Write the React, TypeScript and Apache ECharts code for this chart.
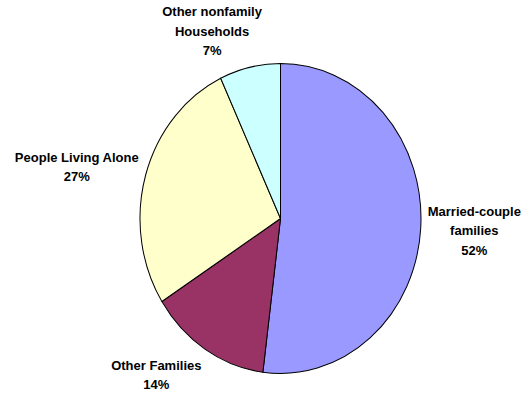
import React, { useEffect, useRef } from "react";
import * as echarts from "echarts";

// ---- data ----
const categories = [
  "Married-couple\nfamilies",
  "Other Families",
  "People Living Alone",
  "Other nonfamily\nHouseholds",
];
const shares = [52, 14, 27, 7];
const colors = ["#9999FF", "#993366", "#FFFFCC", "#CCFFFF"];

// ---- layout ----
const W = 526;
const H = 396;
const CX = 280.5;
const CY = 218.5;
const RX = 140.5;
const RY = 155;
const FONT = 'bold 13px "Liberation Sans", Arial, sans-serif';
const LINE_H = 19.5;
const GAP = 7;

const total = shares.reduce((a, b) => a + b, 0);
const starts: number[] = [];
shares.reduce((acc, v) => {
  starts.push(acc);
  return acc + v;
}, 0);

let measureCtx: CanvasRenderingContext2D | null = null;
function textWidth(s: string): number {
  if (!measureCtx) {
    measureCtx = document.createElement("canvas").getContext("2d");
  }
  if (!measureCtx) return s.length * 7;
  measureCtx.font = FONT;
  return measureCtx.measureText(s).width;
}

const clamp = (v: number) => Math.max(-1, Math.min(1, v));

export default function App() {
  const ref = useRef<HTMLDivElement>(null);
  useEffect(() => {
    if (!ref.current) return;
    const chart = echarts.init(ref.current, undefined, { renderer: "svg" });
    chart.setOption({
      animation: false,
      backgroundColor: "#ffffff",
      series: [
        {
          type: "custom",
          coordinateSystem: "none",
          data: shares.map((v, i) => ({ value: [v], name: categories[i] })),
          renderItem: (params: any, api: any) => {
            const i = params.dataIndex;
            const v = api.value(0) as number;
            const s = starts[i];
            const a0 = -Math.PI / 2 + (2 * Math.PI * s) / total;
            const a1 = -Math.PI / 2 + (2 * Math.PI * (s + v)) / total;
            const theta = (2 * Math.PI * (s + v / 2)) / total;
            const dx = Math.sin(theta);
            const dy = -Math.cos(theta);
            const px = CX + RX * dx;
            const py = CY + RY * dy;
            const label = categories[i] + "\n" + v + "%";
            const lines = label.split("\n");
            const halfW = Math.max(...lines.map(textWidth)) / 2;
            const halfH = (lines.length * LINE_H) / 2;
            const lx = px + GAP * dx + halfW * clamp(dx / 0.3);
            const ly = py + GAP * dy + halfH * clamp(dy * 1.2);
            return {
              type: "group",
              children: [
                {
                  type: "group",
                  x: CX,
                  y: CY,
                  scaleY: RY / RX,
                  children: [
                    {
                      type: "sector",
                      shape: {
                        cx: 0,
                        cy: 0,
                        r0: 0,
                        r: RX,
                        startAngle: a0,
                        endAngle: a1,
                        clockwise: true,
                      },
                      style: {
                        fill: colors[i],
                        stroke: "#000000",
                        lineWidth: 1,
                        strokeNoScale: true,
                      },
                    },
                  ],
                },
                {
                  type: "text",
                  x: lx,
                  y: ly,
                  style: {
                    text: label,
                    font: FONT,
                    fill: "#000000",
                    align: "center",
                    verticalAlign: "middle",
                    textAlign: "center",
                    textVerticalAlign: "middle",
                    lineHeight: LINE_H,
                  },
                },
              ],
            };
          },
        },
      ],
    });
    return () => chart.dispose();
  }, []);
  return (
    <div
      ref={ref}
      style={{ position: "absolute", left: 0, top: 0, width: W, height: H }}
    />
  );
}
